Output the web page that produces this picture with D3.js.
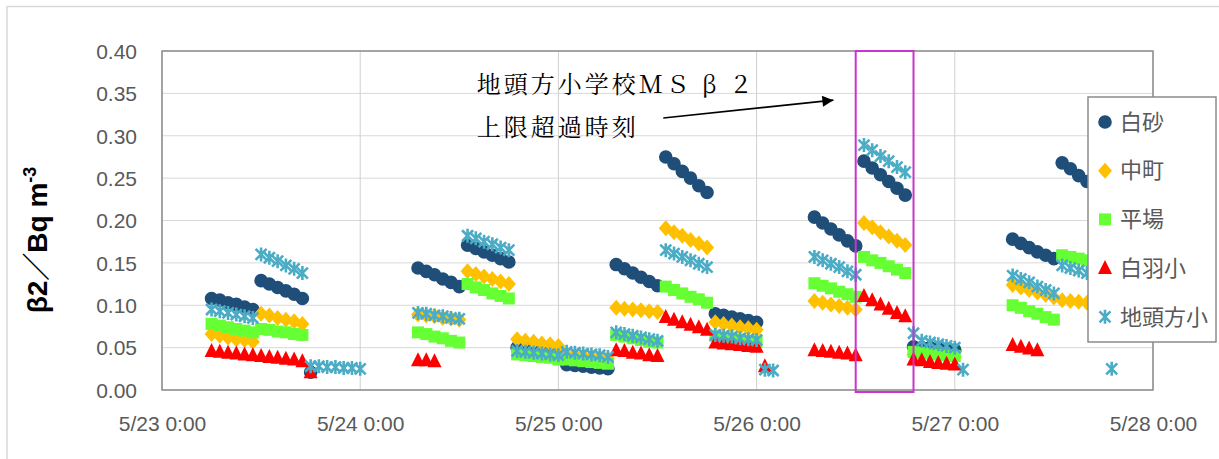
<!DOCTYPE html>
<html>
<head>
<meta charset="utf-8">
<script src="https://cdn.jsdelivr.net/npm/d3@7"></script>
<style>
  body { margin: 0; background: #fff; }
  svg { display: block; }
</style>
</head>
<body>
<svg id="chart" width="1219" height="459"></svg>
<script>
// hours counted from 5/23 0:00, values in Bq/m3
var shirasuna = [
  [6,.108],[7,.106],[8,.103],[9,.101],[10,.098],[11,.095],
  [12,.129],[13,.125],[14,.121],[15,.117],[16,.113],[17,.108],
  [18,.021],
  [31,.144],[32,.140],[33,.136],[34,.131],[35,.127],[36,.122],
  [37,.171],[38,.167],[39,.163],[40,.159],[41,.155],[42,.151],
  [43,.050],[44,.048],[45,.047],[46,.046],[47,.045],[48,.044],
  [49,.030],[50,.029],[51,.028],[52,.027],[53,.026],[54,.025],
  [55,.148],[56,.143],[57,.138],[58,.133],[59,.128],[60,.123],
  [61,.275],[62,.267],[63,.258],[64,.250],[65,.241],[66,.233],
  [67,.090],[68,.088],[69,.086],[70,.084],[71,.082],[72,.080],
  [79,.204],[80,.197],[81,.190],[82,.183],[83,.176],[84,.170],
  [85,.270],[86,.262],[87,.254],[88,.246],[89,.238],[90,.230],
  [91,.051],[92,.050],[93,.050],[94,.049],[95,.048],[96,.047],
  [103,.178],[104,.173],[105,.168],[106,.163],[107,.159],[108,.155],
  [109,.268],[110,.261],[111,.253],[112,.246],[113,.239],[114,.232]
];
var nakamachi = [
  [6,.066],[7,.064],[8,.062],[9,.060],[10,.059],[11,.057],
  [12,.090],[13,.088],[14,.085],[15,.083],[16,.081],[17,.078],
  [31,.089],[32,.088],[33,.087],[34,.085],[35,.084],[36,.083],
  [37,.140],[38,.137],[39,.134],[40,.131],[41,.128],[42,.125],
  [43,.060],[44,.058],[45,.057],[46,.055],[47,.054],[48,.052],
  [49,.042],[50,.041],[51,.040],[52,.039],[53,.038],[54,.037],
  [55,.097],[56,.096],[57,.095],[58,.094],[59,.093],[60,.092],
  [61,.191],[62,.186],[63,.182],[64,.177],[65,.173],[66,.168],
  [67,.080],[68,.078],[69,.076],[70,.074],[71,.073],[72,.071],
  [79,.105],[80,.103],[81,.101],[82,.099],[83,.097],[84,.095],
  [85,.197],[86,.192],[87,.186],[88,.181],[89,.176],[90,.171],
  [91,.042],[92,.041],[93,.041],[94,.040],[95,.040],[96,.039],
  [103,.124],[104,.121],[105,.118],[106,.115],[107,.112],[108,.109],
  [109,.106],[110,.105],[111,.104],[112,.103],[113,.102],[114,.101]
];
var hiraba = [
  [6,.078],[7,.076],[8,.074],[9,.072],[10,.070],[11,.068],
  [12,.072],[13,.071],[14,.069],[15,.068],[16,.066],[17,.065],
  [31,.068],[32,.066],[33,.063],[34,.061],[35,.058],[36,.056],
  [37,.125],[38,.121],[39,.118],[40,.114],[41,.111],[42,.108],
  [43,.042],[44,.041],[45,.040],[46,.039],[47,.038],[48,.036],
  [49,.036],[50,.035],[51,.034],[52,.033],[53,.032],[54,.031],
  [55,.065],[56,.063],[57,.061],[58,.059],[59,.057],[60,.056],
  [61,.122],[62,.118],[63,.114],[64,.110],[65,.107],[66,.103],
  [67,.064],[68,.062],[69,.061],[70,.059],[71,.058],[72,.057],
  [79,.126],[80,.123],[81,.120],[82,.116],[83,.113],[84,.110],
  [85,.157],[86,.153],[87,.150],[88,.146],[89,.142],[90,.138],
  [91,.045],[92,.044],[93,.043],[94,.042],[95,.041],[96,.040],
  [103,.100],[104,.097],[105,.093],[106,.090],[107,.086],[108,.083],
  [109,.159],[110,.157],[111,.155],[112,.153],[113,.151],[114,.149]
];
var shirahasho = [
  [6,.046],[7,.045],[8,.044],[9,.043],[10,.042],[11,.041],
  [12,.040],[13,.039],[14,.038],[15,.037],[16,.036],[17,.034],
  [18,.021],
  [31,.035],[32,.035],[33,.034],
  [55,.047],[56,.046],[57,.044],[58,.043],[59,.041],[60,.040],
  [61,.086],[62,.083],[63,.080],[64,.077],[65,.074],[66,.071],
  [67,.056],[68,.055],[69,.054],[70,.053],[71,.052],[72,.051],
  [73,.028],
  [79,.047],[80,.046],[81,.045],[82,.044],[83,.043],[84,.041],
  [85,.111],[86,.106],[87,.101],[88,.096],[89,.091],[90,.087],
  [91,.036],[92,.035],[93,.033],[94,.032],[95,.031],[96,.030],
  [103,.053],[104,.051],[105,.049],[106,.047]
];
var jitogatasho = [
  [6,.095],[7,.093],[8,.091],[9,.089],[10,.087],[11,.085],
  [12,.160],[13,.156],[14,.152],[15,.147],[16,.143],[17,.138],
  [18,.028],[19,.028],[20,.027],[21,.027],[22,.026],[23,.026],[24,.025],
  [31,.091],[32,.090],[33,.088],[34,.087],[35,.085],[36,.084],
  [37,.182],[38,.179],[39,.175],[40,.172],[41,.168],[42,.165],
  [43,.046],[44,.045],[45,.044],[46,.043],[47,.042],[48,.041],
  [49,.045],[50,.044],[51,.043],[52,.042],[53,.041],[54,.039],
  [55,.068],[56,.066],[57,.064],[58,.062],[59,.060],[60,.058],
  [61,.165],[62,.161],[63,.157],[64,.153],[65,.149],[66,.145],
  [67,.065],[68,.064],[69,.063],[70,.061],[71,.060],[72,.059],
  [73,.024],[74,.023],
  [79,.157],[80,.153],[81,.149],[82,.145],[83,.140],[84,.136],
  [85,.289],[86,.283],[87,.276],[88,.270],[89,.263],[90,.257],
  [91,.067],[92,.058],[93,.056],[94,.054],[95,.052],[96,.050],
  [97,.024],
  [103,.135],[104,.131],[105,.127],[106,.122],[107,.118],[108,.114],
  [109,.147],[110,.144],[111,.141],[112,.138],[113,.135],[114,.132],
  [115,.025]
];
var seriesNames = ["白砂", "中町", "平場", "白羽小", "地頭方小"];
var yTicks = [0, 0.05, 0.10, 0.15, 0.20, 0.25, 0.30, 0.35, 0.40];
var noteLines = ["地頭方小学校ＭＳ β ２", "上限超過時刻"];
var highlightHours = [84, 91];   // box round 地頭方小 over the limit

var t0 = new Date(2011, 4, 23, 0, 0);
function hr(h) { return new Date(t0.getTime() + h * 3600e3); }

var svg = d3.select("#chart");
var L = 162, R = 1153, T = 51, B = 390;

var x = d3.scaleTime().domain([t0, hr(120)]).range([L, R]);
var y = d3.scaleLinear().domain([0, 0.4]).range([B, T]);

// outer frame (only left/top visible in the picture)
svg.append("path").attr("d", "M7,459V6.5H1219").attr("fill", "none")
  .attr("stroke", "#d9d9d9").attr("stroke-width", 1.5);

// gridlines
svg.append("g").selectAll("line").data(yTicks).join("line")
  .attr("x1", L).attr("x2", R)
  .attr("y1", function (d) { return y(d); }).attr("y2", function (d) { return y(d); })
  .attr("stroke", "#d9d9d9").attr("stroke-width", 1);
var days = x.ticks(d3.timeDay.every(1));
svg.append("g").selectAll("line").data(days).join("line")
  .attr("x1", function (d) { return x(d); }).attr("x2", function (d) { return x(d); })
  .attr("y1", T).attr("y2", B)
  .attr("stroke", "#d0d0d0").attr("stroke-width", 1);

svg.append("rect").attr("x", L).attr("y", T).attr("width", R - L).attr("height", B - T)
  .attr("fill", "none").attr("stroke", "#8c8c8c").attr("stroke-width", 1.5);

// axes (labels only)
var yAxis = svg.append("g").attr("transform", "translate(" + (L - 25) + ",0)")
  .call(d3.axisLeft(y).tickValues(yTicks).tickFormat(d3.format(".2f")).tickSize(0).tickPadding(0));
var xAxis = svg.append("g").attr("transform", "translate(0," + (B + 26) + ")")
  .call(d3.axisBottom(x).ticks(d3.timeDay.every(1)).tickFormat(d3.timeFormat("%-m/%-d %-H:%M")).tickSize(0).tickPadding(0));
[yAxis, xAxis].forEach(function (a) {
  a.select(".domain").remove();
  a.selectAll("text").attr("fill", "#595959")
    .style("font-family", "'Liberation Sans', Arial, sans-serif").style("font-size", "21px");
});
xAxis.selectAll("text").attr("dy", "0.71em");
yAxis.selectAll("text").attr("dy", "0.35em");

// y title
svg.append("text").attr("transform", "translate(47,240) rotate(-90)")
  .attr("text-anchor", "middle").attr("fill", "#000")
  .style("font-family", "'Liberation Sans', Arial, 'Noto Sans CJK JP', sans-serif")
  .style("font-size", "28px").style("font-weight", "bold")
  .text("β2／Bq m")
  .append("tspan").attr("dy", "-11").style("font-size", "18px").text("-3");

// markers
var shapes = {
  circle: "M6.8,0A6.8,6.8 0 1,1 -6.8,0A6.8,6.8 0 1,1 6.8,0Z",
  diamond: "M0,-8L7,0L0,8L-7,0Z",
  square: "M-6,-6h12v12h-12Z",
  triangle: "M0,-8L7,6L-7,6Z",
  star: "M-5.5,-5.5L5.5,5.5M-5.5,5.5L5.5,-5.5M0,-7V7"
};
var styles = [
  { data: shirasuna, shape: "circle", color: "#1f4e79" },
  { data: nakamachi, shape: "diamond", color: "#ffc000" },
  { data: hiraba, shape: "square", color: "#66ff33" },
  { data: shirahasho, shape: "triangle", color: "#ff0000" },
  { data: jitogatasho, shape: "star", color: "#4bacc6" }
];

function drawMark(sel, st) {
  sel.attr("d", shapes[st.shape]);
  if (st.shape == "star") {
    sel.attr("fill", "none").attr("stroke", st.color).attr("stroke-width", 2.6);
  } else {
    sel.attr("fill", st.color);
  }
}

styles.forEach(function (st) {
  svg.append("g").selectAll("path").data(st.data).join("path")
    .attr("transform", function (d) { return "translate(" + x(hr(d[0])) + "," + y(d[1]) + ")"; })
    .call(drawMark, st);
});

// highlight box
svg.append("rect")
  .attr("x", x(hr(highlightHours[0]))).attr("y", T)
  .attr("width", x(hr(highlightHours[1])) - x(hr(highlightHours[0])))
  .attr("height", B - T + 2)
  .attr("fill", "none").attr("stroke", "#cc33cc").attr("stroke-width", 2);

// annotation
svg.append("defs").append("marker").attr("id", "arr")
  .attr("viewBox", "0 0 10 10").attr("refX", 10).attr("refY", 5)
  .attr("markerWidth", 12).attr("markerHeight", 11).attr("markerUnits", "userSpaceOnUse")
  .attr("orient", "auto")
  .append("path").attr("d", "M0,0L10,5L0,10Z").attr("fill", "#000");
svg.append("line")
  .attr("x1", x(hr(60.7))).attr("y1", y(0.321))
  .attr("x2", x(hr(81.3))).attr("y2", y(0.342))
  .attr("stroke", "#000").attr("stroke-width", 1.6)
  .attr("marker-end", "url(#arr)");
var note = svg.append("g").style("font-family", "'Noto Serif CJK JP', 'Noto Sans CJK JP', sans-serif")
  .style("font-size", "24px").style("letter-spacing", "3px").attr("fill", "#000");
note.selectAll("text").data(noteLines).join("text")
  .attr("x", x(hr(38.1)))
  .attr("y", function (d, i) { return 93 + i * 43; })
  .text(function (d) { return d; });

// legend
var lg = svg.append("g").attr("transform", "translate(1088,97)");
lg.append("rect").attr("width", 128).attr("height", 245)
  .attr("fill", "#fff").attr("stroke", "#8c8c8c").attr("stroke-width", 1.5);
var items = lg.selectAll("g").data(styles).join("g")
  .attr("transform", function (d, i) { return "translate(17," + (25 + i * 48.7) + ")"; });
items.append("path").each(function (d) { d3.select(this).call(drawMark, d); });
items.append("text").attr("x", 15).attr("dy", "0.35em")
  .attr("fill", "#595959")
  .style("font-family", "'Noto Sans CJK JP', sans-serif").style("font-size", "22px")
  .text(function (d, i) { return seriesNames[i]; });
</script>
</body>
</html>
